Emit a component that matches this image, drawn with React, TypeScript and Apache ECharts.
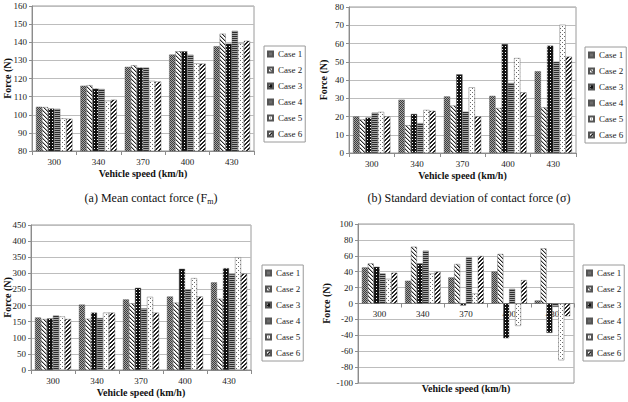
import React, { useEffect, useRef } from 'react';
import * as echarts from 'echarts';

const speeds = ['300', '340', '370', '400', '430'];
const caseNames = ['Case 1', 'Case 2', 'Case 3', 'Case 4', 'Case 5', 'Case 6'];

// (a) mean contact force, one row per case, columns follow `speeds`
const meanCase1 = [104.4, 116.0, 126.4, 133.2, 137.8];
const meanCase2 = [104.2, 116.3, 127.3, 135.0, 144.7];
const meanCase3 = [103.4, 114.4, 126.0, 135.0, 139.2];
const meanCase4 = [103.3, 114.2, 126.0, 133.1, 146.3];
const meanCase5 = [98.0, 107.8, 118.7, 128.4, 139.3];
const meanCase6 = [97.8, 108.3, 118.3, 128.2, 140.8];

// (b) standard deviation of contact force
const stdCase1 = [20.0, 29.2, 31.0, 31.3, 44.8];
const stdCase2 = [18.4, 15.2, 26.0, 24.6, 25.0];
const stdCase3 = [19.4, 21.4, 43.1, 59.7, 58.8];
const stdCase4 = [22.1, 16.4, 22.6, 38.4, 50.0];
const stdCase5 = [22.5, 23.6, 36.0, 52.0, 70.3];
const stdCase6 = [20.0, 23.1, 20.0, 33.2, 52.8];

// (c) maximum contact force
const maxCase1 = [163, 203, 219, 228, 272];
const maxCase2 = [158, 159, 207, 209, 221];
const maxCase3 = [160, 178, 255, 314, 316];
const maxCase4 = [169, 161, 191, 250, 298];
const maxCase5 = [166, 178, 227, 285, 350];
const maxCase6 = [158, 178, 178, 228, 299];

// (d) minimum contact force
const minCase1 = [45.4, 28.6, 32.8, 40.3, 3.8];
const minCase2 = [50.4, 71.4, 49.6, 62.2, 69.3];
const minCase3 = [46.2, 50.4, -2.5, -43.7, -37.0];
const minCase4 = [37.8, 66.4, 58.0, 18.5, -4.2];
const minCase5 = [31.0, 37.8, 12.6, -28.2, -71.4];
const minCase6 = [38.7, 40.0, 59.7, 29.4, -16.0];

// value-axis ranges: [min, max, interval]
const meanTicks = [80, 160, 10];
const stdTicks = [0, 80, 10];
const maxTicks = [0, 450, 50];
const minTicks = [-100, 100, 20];

const SERIF = 'Liberation Serif, serif';

type Paint = (x: number, y: number) => string;

function tilePattern(w: number, h: number, paint: Paint) {
  const c = document.createElement('canvas');
  c.width = w;
  c.height = h;
  const ctx = c.getContext('2d')!;
  for (let y = 0; y < h; y++) {
    for (let x = 0; x < w; x++) {
      ctx.fillStyle = paint(x, y);
      ctx.fillRect(x, y, 1, 1);
    }
  }
  return { image: c, repeat: 'repeat' };
}

function makePatterns() {
  return [
    // fine dark checker
    tilePattern(2, 2, (x, y) => ((x + y) % 2 === 0 ? '#3c3c3c' : '#a4a4a4')),
    // thin back-slash hatch on white
    tilePattern(4, 4, (x, y) => {
      const d = (((x - y) % 4) + 4) % 4;
      return d === 0 ? '#2a2a2a' : d === 1 ? '#b0b0b0' : '#ffffff';
    }),
    // black with white dots
    tilePattern(3, 3, (x, y) => (x === 1 && y === 1 ? '#ffffff' : '#111111')),
    // horizontal stripes
    tilePattern(1, 2, (_x, y) => (y === 0 ? '#2c2c2c' : '#a8a8a8')),
    // sparse dots on white
    tilePattern(4, 4, (x, y) => ((x === 0 && y === 0) || (x === 2 && y === 2) ? '#6a6a6a' : '#ffffff')),
    // bold forward-slash hatch on white
    tilePattern(4, 4, (x, y) => {
      const d = (x + y) % 4;
      return d === 0 || d === 1 ? '#222222' : '#ffffff';
    }),
  ];
}

interface Panel {
  rows: number[][];
  ticks: number[];
  grid: { left: number; top: number; width: number; height: number };
  legend: { left: number; top: number };
  xNameGap: number;
  yNameGap: number;
}

const panels: Panel[] = [
  {
    rows: [meanCase1, meanCase2, meanCase3, meanCase4, meanCase5, meanCase6],
    ticks: meanTicks,
    grid: { left: 32, top: 6, width: 222, height: 145 },
    legend: { left: 264, top: 46 },
    xNameGap: 17,
    yNameGap: 20,
  },
  {
    rows: [stdCase1, stdCase2, stdCase3, stdCase4, stdCase5, stdCase6],
    ticks: stdTicks,
    grid: { left: 349, top: 7, width: 227, height: 146 },
    legend: { left: 585, top: 47 },
    xNameGap: 17,
    yNameGap: 21,
  },
  {
    rows: [maxCase1, maxCase2, maxCase3, maxCase4, maxCase5, maxCase6],
    ticks: maxTicks,
    grid: { left: 31, top: 225, width: 220, height: 145 },
    legend: { left: 262, top: 265 },
    xNameGap: 17,
    yNameGap: 19,
  },
  {
    rows: [minCase1, minCase2, minCase3, minCase4, minCase5, minCase6],
    ticks: minTicks,
    grid: { left: 358, top: 224, width: 216, height: 159 },
    legend: { left: 583, top: 265 },
    xNameGap: 80,
    yNameGap: 27,
  },
];

export default function App() {
  const ref = useRef<HTMLDivElement>(null);

  useEffect(() => {
    if (!ref.current) return;
    const chart = echarts.init(ref.current, undefined, { renderer: 'svg' });
    const patterns = makePatterns();
    const axisGray = '#8c8c8c';

    const grids = panels.map((p) => ({
      ...p.grid,
      show: true,
      borderColor: '#9a9a9a',
      borderWidth: 1,
      containLabel: false,
      outerBoundsMode: 'none',
    }));

    const xAxes = panels.map((p, i) => {
      // where the category axis crosses the value axis (zero when the range spans it)
      const [lo, hi] = p.ticks;
      const crossAt = lo < 0 && hi > 0 ? 0 : lo;
      const lift = ((crossAt - lo) / (hi - lo)) * p.grid.height;
      return {
        type: 'category',
        gridIndex: i,
        data: speeds,
        position: 'bottom',
        offset: -lift,
        axisLine: { show: true, onZero: false, lineStyle: { color: axisGray, width: 1 } },
        axisTick: { show: true, length: 4, lineStyle: { color: axisGray } },
        axisLabel: { margin: 6, fontFamily: SERIF, fontSize: 9, color: '#222' },
        splitLine: { show: false },
        name: 'Vehicle speed (km/h)',
        nameLocation: 'middle',
        nameGap: p.xNameGap,
        nameMoveOverlap: false,
        nameTextStyle: { fontFamily: SERIF, fontSize: 10, fontWeight: 'bold', color: '#111' },
      };
    });

    const yAxes = panels.map((p, i) => ({
      type: 'value',
      gridIndex: i,
      min: p.ticks[0],
      max: p.ticks[1],
      interval: p.ticks[2],
      axisLine: { show: true, lineStyle: { color: axisGray, width: 1 } },
      axisTick: { show: true, length: 3, lineStyle: { color: axisGray } },
      axisLabel: { margin: 5, fontFamily: SERIF, fontSize: 9, color: '#222' },
      splitLine: { show: true, lineStyle: { color: '#bdbdbd', width: 1 } },
      name: 'Force (N)',
      nameLocation: 'middle',
      nameGap: p.yNameGap,
      nameMoveOverlap: false,
      nameTextStyle: { fontFamily: SERIF, fontSize: 10, fontWeight: 'bold', color: '#111' },
    }));

    const series: any[] = [];
    panels.forEach((p, i) => {
      p.rows.forEach((row, k) => {
        series.push({
          type: 'bar',
          name: caseNames[k],
          xAxisIndex: i,
          yAxisIndex: i,
          data: row,
          barGap: '0%',
          barCategoryGap: '18%',
          itemStyle: { color: patterns[k], borderColor: '#555', borderWidth: 0.4 },
        });
      });
    });

    const legends = panels.map((p) => ({
      data: caseNames,
      orient: 'vertical',
      left: p.legend.left,
      top: p.legend.top,
      icon: 'rect',
      itemWidth: 5,
      itemHeight: 5,
      itemGap: 6,
      padding: [3, 3, 3, 3],
      borderColor: '#9a9a9a',
      borderWidth: 1,
      selectedMode: false,
      textStyle: { fontFamily: SERIF, fontSize: 9, color: '#222', lineHeight: 10 },
    }));

    const captions = [
      { x: 151, y: 198, text: '(a) Mean contact force (F{sub|m})' },
      { x: 469, y: 198, text: '(b) Standard deviation of contact force (σ)' },
    ].map((c) => ({
      type: 'text',
      x: c.x,
      y: c.y,
      style: {
        text: c.text,
        fontFamily: SERIF,
        fontSize: 12,
        fill: '#111',
        textAlign: 'center',
        textVerticalAlign: 'middle',
        rich: {
          sub: { fontFamily: SERIF, fontSize: 8, fill: '#111', padding: [6, 0, 0, 0] },
        },
      },
    }));

    chart.setOption({
      animation: false,
      backgroundColor: '#ffffff',
      grid: grids,
      xAxis: xAxes,
      yAxis: yAxes,
      legend: legends,
      series,
      graphic: captions,
    } as any);

    return () => chart.dispose();
  }, []);

  return (
    <div
      ref={ref}
      style={{ position: 'absolute', left: 0, top: 0, width: 628, height: 402, background: '#fff' }}
    />
  );
}
